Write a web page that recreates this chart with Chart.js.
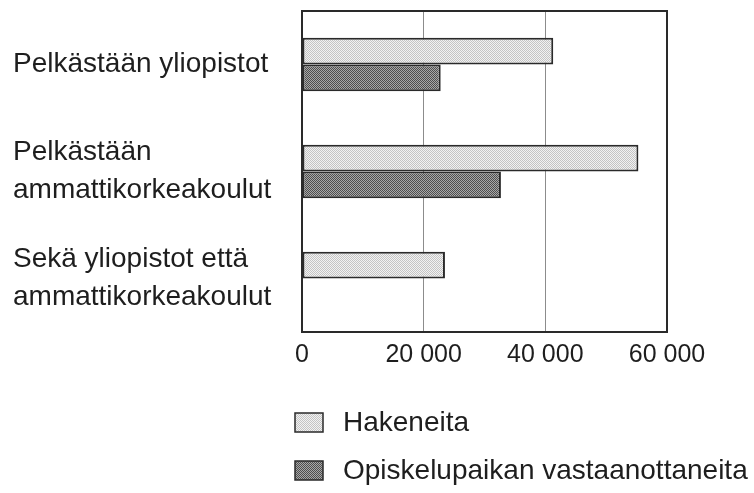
<!DOCTYPE html>
<html>
<head>
<meta charset="utf-8">
<script src="https://cdn.jsdelivr.net/npm/chart.js@4/dist/chart.umd.min.js"></script>
<style>
  html, body { margin: 0; padding: 0; background: #fff; }
  #wrap { width: 754px; height: 493px; }
</style>
</head>
<body>
<div id="wrap"><canvas id="chart"></canvas></div>
<script>
const categories = [
    ['Pelkästään yliopistot'],
    ['Pelkästään', 'ammattikorkeakoulut'],
    ['Sekä yliopistot että', 'ammattikorkeakoulut']
];
const seriesNames = ['Hakeneita', 'Opiskelupaikan vastaanottaneita'];
const applicants = [41300, 55300, 23500];
const accepted = [22800, 32700, null];
const xTicks = [0, 20000, 40000, 60000];

// small checker textures, like the halftone fills of the print
function makePattern(a, b) {
    const c = document.createElement('canvas');
    c.width = 2; c.height = 2;
    const g = c.getContext('2d');
    g.fillStyle = a; g.fillRect(0, 0, 2, 2);
    g.fillStyle = b; g.fillRect(0, 0, 1, 1); g.fillRect(1, 1, 1, 1);
    return g.createPattern(c, 'repeat');
}
const lightFill = makePattern('#f2f2f2', '#c4c4c4');
const darkFill = makePattern('#a8a8a8', '#4e4e4e');

// frame round the plot area
const frame = {
    id: 'frame',
    afterDatasetsDraw(chart) {
        const a = chart.chartArea, ctx = chart.ctx;
        ctx.save();
        ctx.strokeStyle = '#2a2a2a';
        ctx.lineWidth = 2;
        ctx.strokeRect(a.left, a.top, a.right - a.left, a.bottom - a.top);
        ctx.restore();
    }
};

// stacked legend under the axis
const stackedLegend = {
    id: 'stackedLegend',
    afterDraw(chart) {
        const ctx = chart.ctx;
        const x = chart.chartArea.left - 7;
        let y = 413;
        ctx.save();
        ctx.font = '28px "Liberation Sans", Arial, sans-serif';
        ctx.textBaseline = 'middle';
        ctx.textAlign = 'left';
        chart.data.datasets.forEach(ds => {
            ctx.fillStyle = ds.backgroundColor;
            ctx.fillRect(x, y, 28, 19);
            ctx.strokeStyle = '#2a2a2a';
            ctx.lineWidth = 1.5;
            ctx.strokeRect(x, y, 28, 19);
            ctx.fillStyle = '#1e1e1e';
            ctx.fillText(ds.label, x + 48, y + 10);
            y += 48;
        });
        ctx.restore();
    }
};

new Chart(document.getElementById('chart'), {
    type: 'bar',
    data: {
        labels: categories,
        datasets: [{
            label: seriesNames[0],
            data: applicants,
            backgroundColor: lightFill,
            borderColor: '#2a2a2a',
            borderWidth: 2,
            borderSkipped: false
        }, {
            label: seriesNames[1],
            data: accepted,
            backgroundColor: darkFill,
            borderColor: '#2a2a2a',
            borderWidth: 2,
            borderSkipped: false
        }]
    },
    options: {
        indexAxis: 'y',
        responsive: true,
        maintainAspectRatio: false,
        animation: false,
        layout: { padding: { left: 13, right: 87, top: 11, bottom: 121 } },
        categoryPercentage: 0.5,
        barPercentage: 1,
        scales: {
            x: {
                min: 0,
                max: 60000,
                afterBuildTicks: s => { s.ticks = xTicks.map(v => ({ value: v })); },
                afterFit: s => { s.height = 40; s.paddingLeft = 0; s.paddingRight = 0; },
                grid: { color: '#8c8c8c', lineWidth: 1, drawTicks: false },
                border: { display: false },
                ticks: {
                    padding: 8,
                    color: '#1e1e1e',
                    font: { family: '"Liberation Sans", Arial, sans-serif', size: 25 },
                    callback: v => String(v).replace(/\B(?=(\d{3})+(?!\d))/g, ' ')
                }
            },
            y: {
                afterFit: s => { s.width = 289; s.paddingTop = 0; s.paddingBottom = 0; },
                grid: { display: false },
                border: { display: false },
                ticks: {
                    crossAlign: 'far',
                    color: '#1e1e1e',
                    font: { family: '"Liberation Sans", Arial, sans-serif', size: 28, lineHeight: 1.36 }
                }
            }
        },
        plugins: {
            legend: { display: false },
            tooltip: { enabled: false }
        }
    },
    plugins: [frame, stackedLegend]
});
</script>
</body>
</html>
